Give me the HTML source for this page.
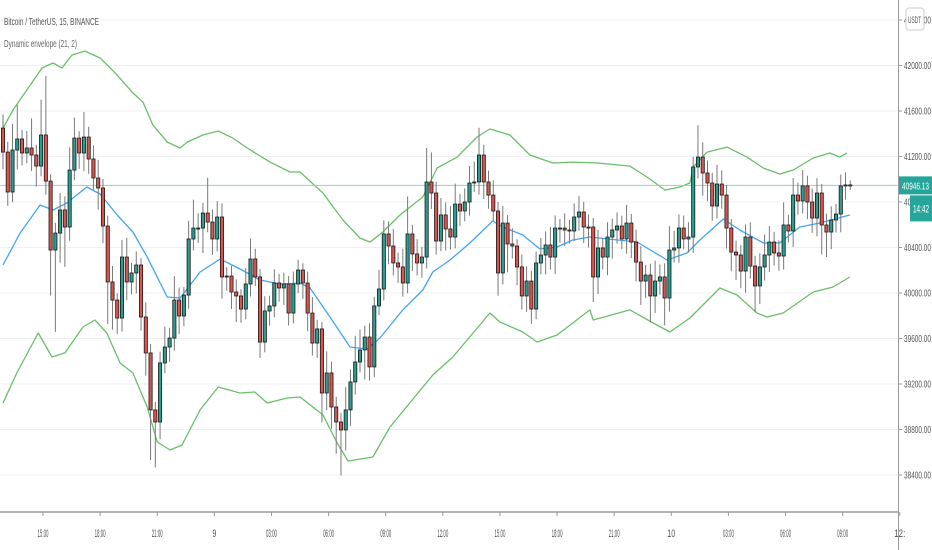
<!DOCTYPE html>
<html><head><meta charset="utf-8"><style>
html,body{margin:0;padding:0;background:#fff;}
svg{display:block;font-family:"Liberation Sans",sans-serif;}
</style></head><body>
<svg id="chart" width="932" height="550" viewBox="0 0 932 550"></svg>
<script>
const closes=[41239,40888,41257,41354,41231,41275,41213,41116,41389,40984,40378,40527,40730,40580,41081,41362,41231,41371,41178,41011,
40923,40589,40097,39938,39780,40316,40097,40176,40246,39789,39473,38972,38866,39385,39525,39604,39938,39798,39982,40475,
40571,40571,40703,40624,40475,40668,40141,40149,40009,39974,39859,40079,40299,40141,39569,39842,39886,40088,40044,40079,
39824,40079,40202,40088,39824,39560,39684,39121,39297,38998,38866,38796,38972,39218,39393,39499,39613,39350,39886,40035,
40519,40413,40264,40229,40088,40519,40343,40264,40316,40976,40879,40457,40686,40563,40492,40782,40721,40800,40967,40976,
41213,40976,40861,40721,40176,40615,40431,40413,40229,39974,40105,39859,40264,40334,40422,40316,40571,40571,40554,40545,
40668,40712,40580,40580,40141,40396,40316,40492,40554,40589,40475,40615,40448,40272,40105,40158,39974,40105,40141,39956,
40378,40396,40571,40475,40492,41108,41195,41055,40967,40765,40958,40861,40571,40360,40334,40193,40492,40237,40062,40229,
40334,40448,40352,40325,40598,40545,40861,40809,40941,40800,40659,40879,40598,40536,40642,40694,40941,40950,40946];
const firstOpen=41450;
const wickUp=[120,90,230,300,80,150,260,90,310,520,60,90,150,120,200,180,60,220,90,120,
160,80,90,140,60,150,170,90,120,60,130,80,70,100,180,90,210,110,70,160,
250,130,90,310,110,140,120,80,90,110,60,140,180,90,70,130,90,120,80,100,
70,110,90,60,100,140,80,60,190,100,90,80,200,110,230,180,100,120,80,170,
120,110,150,90,160,330,80,130,90,300,260,100,150,110,200,180,90,120,150,180,
240,90,100,130,80,150,70,140,60,110,130,90,100,150,120,160,110,80,130,90,
120,140,90,110,80,160,90,130,100,120,90,160,80,110,140,90,100,180,110,120,
210,150,120,110,130,90,280,130,110,90,170,120,90,80,100,90,110,130,90,120,
180,140,90,110,200,90,150,110,140,90,120,130,80,100,120,90,100,110,40];
const wickDn=[150,120,90,170,110,90,140,180,90,120,400,720,260,350,120,90,140,160,130,110,
190,150,370,260,140,120,160,110,180,120,200,440,400,150,90,130,110,160,90,120,
100,130,220,90,140,110,190,120,150,230,120,90,110,80,140,90,130,100,120,150,
110,90,80,140,160,110,130,260,150,190,280,400,180,140,110,90,260,120,90,80,
100,160,110,140,120,90,150,110,130,100,140,120,90,190,110,100,130,90,120,80,
110,150,120,90,200,100,250,110,160,120,140,130,90,100,170,110,150,130,140,110,
90,120,140,180,220,150,110,160,190,120,90,130,140,170,210,150,230,150,120,240,
120,110,130,90,120,140,100,200,160,130,110,120,180,170,220,150,190,110,230,160,
120,150,110,130,120,100,140,120,110,150,130,160,260,220,150,110,160,120,40];
const upperIdx=[0,2.1,8.2,10.5,12.4,14.5,17.2,20.4,24,27.3,29.4,31.5,34.5,37.2,38.7,42,45.2,48.3,51.3,56.1,60.3,62.4,67.2,71.4,75,77.1,79.8,83.4,88.2,91.2,95.4,99.6,102.3,106.5,110.7,115.5,119.7,125,131.7,135.3,139.1,142.2,144.3,145,147.9,152.1,156.3,159.7,163.2,166,170.2,173.7,175.8,177.3];
const upperVals=[41450,41609,41978,42022,41978,42092,42127,42066,41916,41758,41679,41477,41327,41275,41327,41389,41424,41362,41275,41151,41064,41064,40879,40642,40483,40448,40536,40686,40844,41099,41195,41371,41442,41389,41213,41143,41151,41143,41116,41020,40905,40932,40967,41108,41239,41283,41195,41099,41046,41081,41187,41231,41195,41231];
const lowerIdx=[0,2.9,7.4,10.3,13,16.8,19.3,21.8,24.6,27.3,30.3,32.4,35.1,37.6,41.4,45.2,49.8,52.9,55.5,59.7,62.4,67.2,70.2,72.5,77.7,81.3,90.3,94.5,102.3,104.4,109.2,112.2,116.4,123.3,124,131.7,136.6,140.1,144.3,150.6,154.2,158.4,160.5,163.9,170.2,174.4,177.9];
const lowerVals=[39033,39297,39648,39437,39473,39701,39763,39648,39385,39297,38998,38690,38620,38664,38972,39174,39121,39130,39033,39077,39086,38928,38681,38523,38558,38822,39279,39437,39824,39745,39657,39569,39631,39851,39763,39851,39736,39657,39780,40044,39982,39824,39789,39824,40009,40053,40141];
const maIdx=[0,3.6,7.8,10.5,13.4,17.6,20.4,24,27.3,30.3,34.5,37.2,41.4,45.6,49.8,54,58.2,62.4,64.5,68.7,72.9,76.5,79.2,84,88.2,90.3,93.9,98.1,102.9,105,109.2,112.8,116.4,119.7,123.3,125.4,133.2,139.5,143.7,146.4,151.3,154.8,159.7,163.2,167.4,171.6,177.9];
const maVals=[40246,40527,40774,40730,40791,40932,40870,40686,40536,40316,39965,39956,40185,40299,40211,40114,40079,40088,40044,39789,39525,39508,39604,39851,40026,40185,40290,40440,40633,40580,40510,40387,40404,40466,40492,40483,40448,40290,40352,40466,40650,40554,40440,40440,40580,40615,40686];
const priceTicks=[42400,42000,41600,41200,40800,40400,40000,39600,39200,38800,38400];
const timeLabels=["15:00","18:00","21:00","9","03:00","06:00","09:00","12:00","15:00","18:00","21:00","10","03:00","06:00","09:00","12:"];
const firstTickIdx=8.4;
const ticksEvery=12;
const lastPrice=40946.13;

const NS="http://www.w3.org/2000/svg";
const svg=document.getElementById('chart');
const X0=3,STEP=4.76,PLOT_R=898,PLOT_B=512;
function xScale(i){return X0+i*STEP;}
function yScale(p){return 293-(p-40000)*0.11375;}
function mk(tag,attrs,parent){const e=document.createElementNS(NS,tag);for(const k in attrs)e.setAttribute(k,attrs[k]);(parent||svg).appendChild(e);return e;}

const grid=mk('g',{});


priceTicks.forEach(p=>{const l=mk('line',{x1:0,x2:PLOT_R,y1:yScale(p),y2:yScale(p),stroke:'#eef0f4','stroke-width':1},grid);

});

function line(idx,vals,color,name,w){
  const d=idx.map((i,k)=>(k?'L':'M')+xScale(i).toFixed(1)+' '+yScale(vals[k]).toFixed(1)).join(' ');
  const p=mk('path',{d:d,fill:'none',stroke:color,'stroke-width':w,'stroke-linejoin':'round'});
  
  
}
line(upperIdx,upperVals,'#6abf69','upper-envelope',1.3);
line(lowerIdx,lowerVals,'#6abf69','lower-envelope',1.3);

const lp=mk('line',{x1:0,x2:PLOT_R,y1:yScale(lastPrice),y2:yScale(lastPrice),stroke:'#8fd3c8','stroke-width':1});



line(maIdx,maVals,'#42a5f5','envelope-basis-line',1.3);

const cg=mk('g',{});


closes.forEach((c,i)=>{
  const o=i?closes[i-1]:firstOpen;
  const x=xScale(i);
  const hi=Math.max(o,c)+wickUp[i], lo=Math.min(o,c)-wickDn[i];
  const w=mk('line',{x1:x,x2:x,y1:yScale(hi),y2:yScale(lo),stroke:'#7a7a7a','stroke-width':1},cg);
  
  
  const top=yScale(Math.max(o,c)), bot=yScale(Math.min(o,c));
  const b=mk('rect',{x:x-1.6,y:top,width:3.2,height:Math.max(1,bot-top),fill:c>=o?'#2a9d8f':'#d9534f',stroke:'#1a1a1a','stroke-width':0.8},cg);
  
  
});

const ax=mk('line',{x1:PLOT_R+0.5,x2:PLOT_R+0.5,y1:0,y2:550,stroke:'#9a9a9a','stroke-width':1});


const bx=mk('line',{x1:0,x2:PLOT_R,y1:PLOT_B,y2:PLOT_B,stroke:'#9a9a9a','stroke-width':1.5});


priceTicks.forEach(p=>{
  const y=yScale(p);
  const t=mk('line',{x1:PLOT_R,x2:PLOT_R+4,y1:y,y2:y,stroke:'#9a9a9a'});
  
  
  const tx=mk('text',{x:PLOT_R+6,y:y+3.5,'font-size':10,fill:'#555',textLength:27,lengthAdjust:'spacingAndGlyphs'});
  tx.textContent=p.toFixed(2);
  
  
});
timeLabels.forEach((s,k)=>{
  const x=xScale(firstTickIdx+k*ticksEvery);
  const t=mk('line',{x1:x,x2:x,y1:PLOT_B,y2:PLOT_B+4,stroke:'#9a9a9a'});
  
  
  const tx=mk('text',{x:x,y:537,'font-size':11,fill:'#555','text-anchor':'middle',textLength:s.length>2?11:(s.length*4),lengthAdjust:'spacingAndGlyphs'});
  tx.textContent=s;
  
  
});

const ly=yScale(lastPrice);
const pb=mk('rect',{x:899,y:ly-9,width:33,height:18,fill:'#26a69a'});


const pt=mk('text',{x:902,y:ly+4,'font-size':10,fill:'#fff',textLength:27,lengthAdjust:'spacingAndGlyphs'});
pt.textContent=lastPrice.toFixed(2);


const tb=mk('rect',{x:910,y:ly+10,width:22,height:26,fill:'#26a69a'});


const tt=mk('text',{x:913,y:ly+27,'font-size':11,fill:'#fff',textLength:16,lengthAdjust:'spacingAndGlyphs'});
tt.textContent='14:42';



const ub=mk('rect',{x:906,y:8,width:18,height:22,rx:3,fill:'#fff',stroke:'#ccc'});


const ut=mk('text',{x:908,y:23,'font-size':9,fill:'#555',textLength:13,lengthAdjust:'spacingAndGlyphs'});
ut.textContent='USDT';



const t1=mk('text',{x:4,y:25,'font-size':10.5,fill:'#555',textLength:95,lengthAdjust:'spacingAndGlyphs'});
t1.textContent='Bitcoin / TetherUS, 15, BINANCE';


const t2=mk('text',{x:4,y:47,'font-size':10.5,fill:'#666',textLength:73,lengthAdjust:'spacingAndGlyphs'});
t2.textContent='Dynamic envelope (21, 2)';


</script>
</body></html>
